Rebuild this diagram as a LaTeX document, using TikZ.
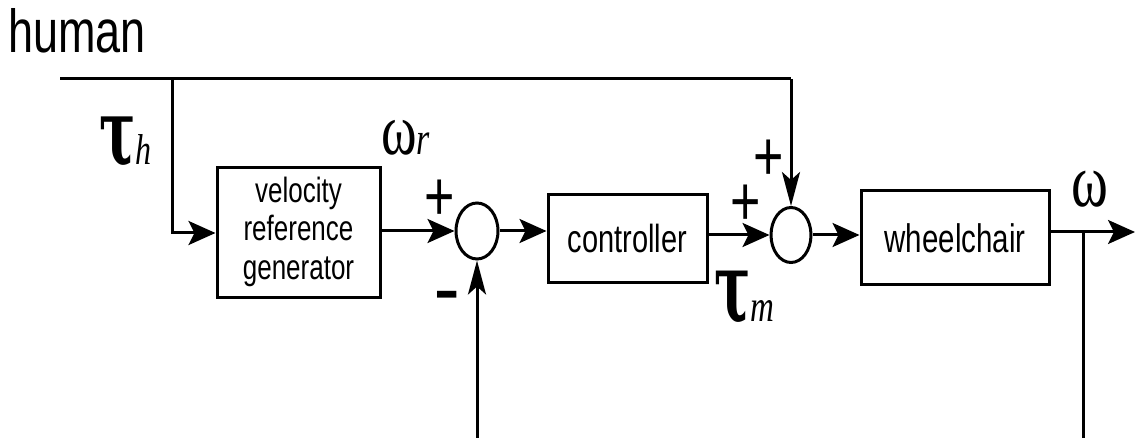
\documentclass[tikz,border=0pt]{standalone}
\usepackage{graphicx}
\usepackage{fontspec}
\setmainfont{Liberation Sans}
\newfontfamily\serf{Liberation Serif}
\newfontfamily\dserf{DejaVu Serif}
\usetikzlibrary{arrows.meta,shapes.geometric}
\newcommand{\vstretch}[2][1.35]{\scalebox{1}[#1]{#2}}
\begin{document}
\begin{tikzpicture}[x=1pt,y=-1pt,
  lw/.style={line width=3pt},
  blk/.style={draw,lw,rectangle,inner sep=0pt},
  sumc/.style={draw,lw,ellipse,inner sep=0pt},
  harr/.style={lw,-{Stealth[length=27pt,width=24pt,inset=6pt]}},
  varr/.style={lw,-{Stealth[length=34pt,width=18pt,inset=8pt]}},
  lbl/.style={inner sep=0pt,anchor=base west},
  sgn/.style={inner sep=0pt,anchor=base,font=\fontsize{52}{52}\selectfont}
]
\useasboundingbox (0,0) rectangle (1135,438);
% labels
\node[lbl,font=\fontsize{45}{45}\selectfont] (human) at (8,53) {\vstretch{human}};
\node[lbl] (tauh) at (99,165) {\vstretch[1.7]{\fontsize{54}{54}\dserf\bfseries τ}\vstretch{\fontsize{32}{32}\serf\itshape h}};
\node[lbl] (omr) at (381,155) {\vstretch{\fontsize{54}{54}\serf ω}\vstretch{\fontsize{34}{34}\serf\itshape r}};
\node[lbl] (taum) at (714,322) {\vstretch[1.8]{\fontsize{54}{54}\dserf\bfseries τ}\vstretch{\fontsize{33}{33}\serf\itshape m}};
\node[lbl] (om) at (1071,207) {\vstretch{\fontsize{56}{56}\serf ω}};
% blocks
\node[blk,minimum width=163pt,minimum height=130pt,font=\fontsize{26}{28.5}\selectfont] (vrg) at (298.5,233)
  {\vstretch{\begin{tabular}{@{}c@{}}velocity\\reference\\generator\end{tabular}}};
\node[sumc,minimum width=42pt,minimum height=56pt] (c1) at (477,231) {};
\node[blk,minimum width=159pt,minimum height=88pt,font=\fontsize{29}{29}\selectfont] (ctl) at (627.5,239) {\vstretch{controller}};
\node[sumc,minimum width=40pt,minimum height=55pt] (c2) at (791,235) {};
\node[blk,minimum width=188pt,minimum height=94pt,font=\fontsize{29.5}{29.5}\selectfont] (wc) at (955,238) {\vstretch{wheelchair}};
% signs
\node[sgn] (p1) at (440,221) {\vstretch{+}};
\node[sgn] (p2) at (769,181) {\vstretch{+}};
\node[sgn] (p3) at (746,226) {\vstretch{+}};
\node[sgn,font=\fontsize{60}{60}\selectfont\bfseries] (m1) at (447,309) {\scalebox{1.27}[0.95]{-}};
% coordinates
\coordinate (tl) at (60,79);
\coordinate (tb) at (172,79);
\coordinate (tr) at (791,79);
\coordinate (fb1) at (477,438);
\coordinate (br) at (1083,232);
\coordinate (fb2) at (1083,438);
\coordinate (out) at (1135,232);
% connectors
\draw[lw] (tl) -- (tr);
\draw[varr] (tr) -- (c2.north);
\draw[harr] (tb) |- (vrg.west);
\draw[harr] (vrg.east |- c1) -- (c1.west);
\draw[harr] (c1.east) -- (ctl.west |- c1);
\draw[harr] (ctl.east |- c2) -- (c2.west);
\draw[harr] (c2.east) -- (wc.west |- c2);
\draw[harr] (wc.east |- out) -- (out);
\draw[lw] (br) -- (fb2);
\draw[varr] (fb1) -- (c1.south);
\end{tikzpicture}
\end{document}
